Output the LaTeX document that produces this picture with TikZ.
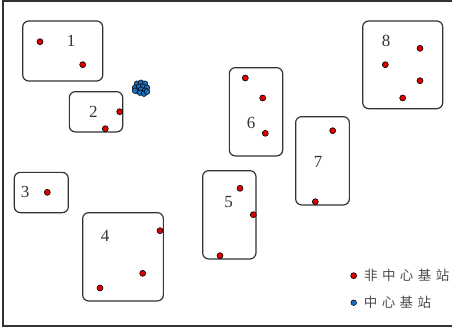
\documentclass[tikz,border=0pt]{standalone}
\usepackage{fontspec}
\setmainfont{Liberation Serif}
\newfontfamily\cjk{Noto Sans CJK SC}
\usepackage{xcolor}
\usepackage{tikz}
\usetikzlibrary{positioning}
\definecolor{stared}{HTML}{E00000}
\definecolor{stablue}{HTML}{1A6FC0}
\definecolor{edgegray}{HTML}{333333}
\newcommand{\cjkgap}{\hspace{4.4pt}}

\begin{document}
\begin{tikzpicture}[x=1pt,y=-1pt,
    area/.style={draw=edgegray, line width=1.2pt, rounded corners=6pt, inner sep=0pt},
    num/.style={font=\fontsize{17}{17}\selectfont, text=black!80, inner sep=0pt},
    sta/.style={circle, draw=black, line width=0.6pt, fill=stared, minimum size=6pt, inner sep=0pt},
    hub/.style={circle, draw=black, line width=0.5pt, fill=stablue, minimum size=5.6pt, inner sep=0pt},
    legtext/.style={font=\cjk\fontsize{13.5}{13.5}\selectfont, text=black!70, anchor=west, inner sep=0pt}]
  \useasboundingbox (0,0) rectangle (452,329);
  \draw[edgegray, line width=1.3pt] (3,1) rectangle (455,326);
  % areas
  \node[area, minimum width=80pt, minimum height=60pt] (a1) at (62.7,51) {};
  \node[area, minimum width=53.3pt, minimum height=40.3pt] (a2) at (96,111.8) {};
  \node[area, minimum width=54pt, minimum height=40.3pt] (a3) at (41.3,192.5) {};
  \node[area, minimum width=80.7pt, minimum height=88.3pt] (a4) at (123,256.8) {};
  \node[area, minimum width=53.3pt, minimum height=88.3pt] (a5) at (229.3,214.8) {};
  \node[area, minimum width=53.3pt, minimum height=88.3pt] (a6) at (256,111.8) {};
  \node[area, minimum width=53.7pt, minimum height=88.3pt] (a7) at (322.5,160.8) {};
  \node[area, minimum width=80pt, minimum height=87.7pt] (a8) at (402.7,64.8) {};
  \node[num] (n1) at (71,41) {1};
  \node[num] (n2) at (93.3,111.7) {2};
  \node[num] (n3) at (25,191.7) {3};
  \node[num] (n4) at (105,235.7) {4};
  \node[num] (n5) at (228.5,201.7) {5};
  \node[num] (n6) at (251,123.3) {6};
  \node[num] (n7) at (318,162) {7};
  \node[num] (n8) at (386,40.7) {8};
  % non-central stations
  \node[sta] (s1a) at (40,41.7) {};
  \node[sta] (s1b) at (82.7,64.7) {};
  \node[sta] (s2a) at (119.7,111.7) {};
  \node[sta] (s2b) at (105.3,128.7) {};
  \node[sta] (s3a) at (47.3,192.3) {};
  \node[sta] (s4a) at (160,230.7) {};
  \node[sta] (s4b) at (142.7,273.3) {};
  \node[sta] (s4c) at (100,288) {};
  \node[sta] (s5a) at (240,188.3) {};
  \node[sta] (s5b) at (253.3,214.7) {};
  \node[sta] (s5c) at (220,255.7) {};
  \node[sta] (s6a) at (245.3,78) {};
  \node[sta] (s6b) at (262.7,98) {};
  \node[sta] (s6c) at (265.3,133.3) {};
  \node[sta] (s7a) at (332.7,130.7) {};
  \node[sta] (s7b) at (315.3,201.7) {};
  \node[sta] (s8a) at (420,48.3) {};
  \node[sta] (s8b) at (385.3,64.7) {};
  \node[sta] (s8c) at (420,80.7) {};
  \node[sta] (s8d) at (402.7,98) {};
  % central stations
  \foreach \dx/\dy [count=\i] in {-4/-4,0/-5,4/-4,-6/0,-2/-1,2/-1,6/0,-4/3,0/2,4/3,-1/5,3/6,6/4,-6/3}
    \node[hub] (h\i) at (141+\dx,87.7+\dy) {};
  % legend
  \node[sta] (k1) at (353.7,275.7) {};
  \node[legtext, right=7pt of k1] (t1) {非\cjkgap 中\cjkgap 心\cjkgap 基\cjkgap 站};
  \node[hub] (k2) at (353.7,302.7) {};
  \node[legtext, right=7pt of k2] (t2) {中\cjkgap 心\cjkgap 基\cjkgap 站};
\end{tikzpicture}
\end{document}
